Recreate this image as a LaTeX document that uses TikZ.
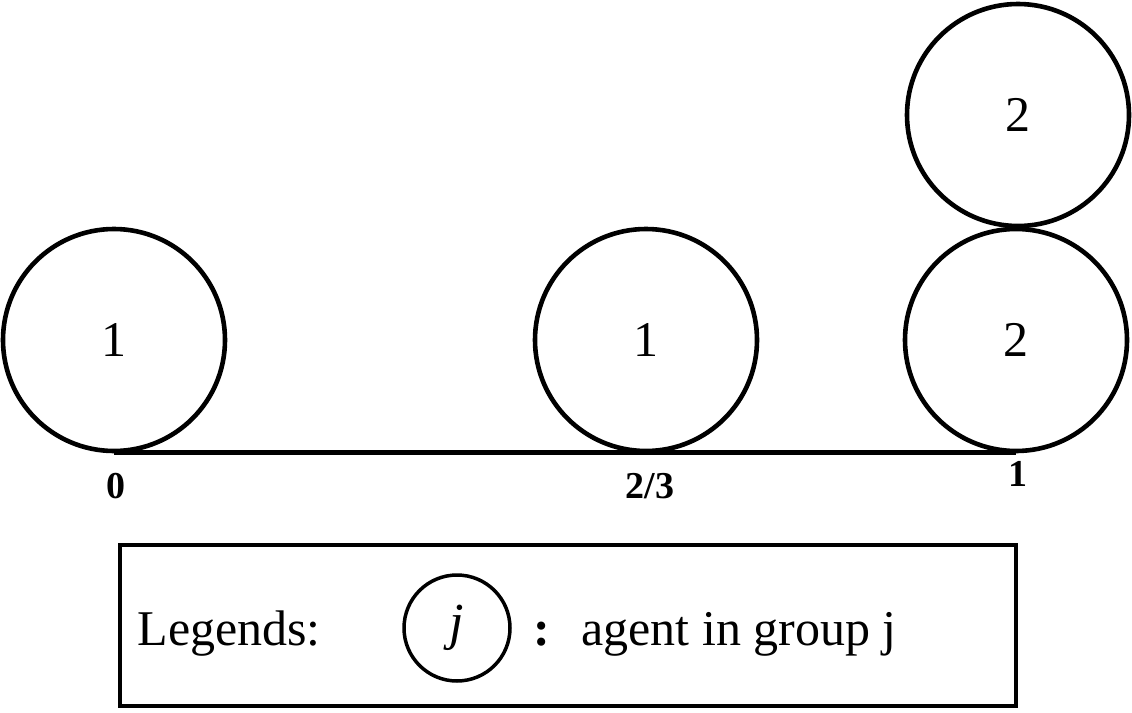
\documentclass[tikz,border=0pt]{standalone}
\usepackage{fontspec}
\setmainfont{Liberation Serif}
\begin{document}
\begin{tikzpicture}[x=1pt,y=-1pt,
  agent/.style={circle,draw,line width=4.6pt,minimum size=222pt,inner sep=0pt,font=\fontsize{50}{52}\selectfont},
  tick/.style={font=\fontsize{38}{40}\selectfont\bfseries},
  legtext/.style={font=\fontsize{50}{54}\selectfont,anchor=base west}]
\useasboundingbox (0,0) rectangle (1132,712);
\node[agent] (a1) at (114,340) {1};
\node[agent] (a2) at (646,340) {1};
\node[agent] (a3) at (1016,340) {2};
\node[agent] (a4) at (1018,115) {2};
\coordinate (l0) at (114,452);
\coordinate (l1) at (1016,452);
\draw[line width=5pt] (l0) -- (l1);
\node[tick] (t0) at (116,486) {0};
\node[tick] (t1) at (650,486) {2/3};
\node[tick] (t2) at (1018,474) {1};
\node[draw,line width=4pt,minimum width=896pt,minimum height=161pt,inner sep=0pt] (box) at (568,625.5) {};
\node[legtext] (leg) at (134,645) {Legends:};
\node[circle,draw,line width=3.5pt,minimum size=106pt,inner sep=0pt,font=\fontsize{52}{54}\selectfont\itshape] (lc) at (457,628) {j};
\node[legtext] (col) at (530,645) {\textbf{:}};
\node[legtext] (desc) at (578,645) {agent in group j};
\end{tikzpicture}
\end{document}
